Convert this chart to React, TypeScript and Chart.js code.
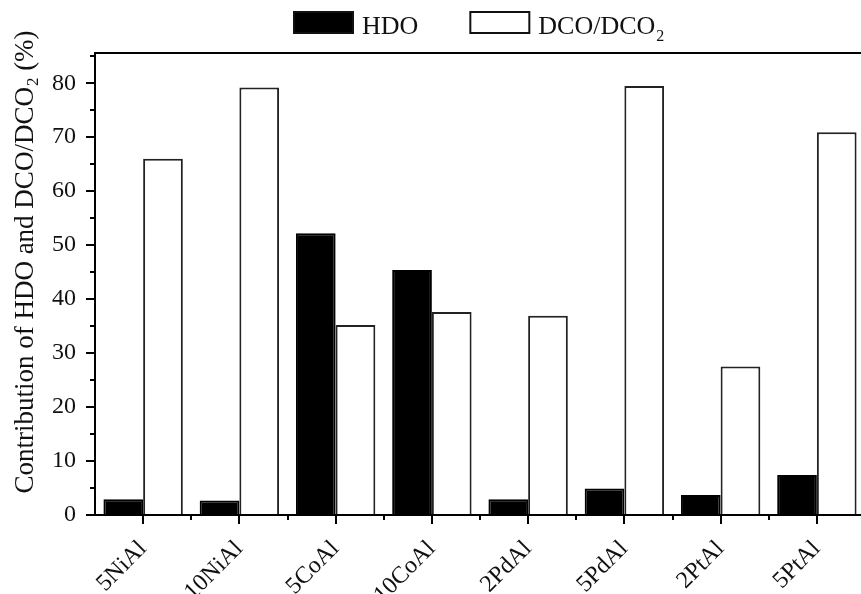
import { useEffect, useRef } from 'react';
import { Chart, registerables } from 'chart.js';

Chart.register(...registerables);

const categories = ['5NiAl', '10NiAl', '5CoAl', '10CoAl', '2PdAl', '5PdAl', '2PtAl', '5PtAl'];
const hdoValues = [2.9, 2.7, 52.2, 45.4, 2.9, 4.9, 3.7, 7.4];
const dcoValues = [66.0, 79.2, 35.2, 37.6, 36.9, 79.5, 27.5, 70.9];
const seriesLabels = ['HDO', 'DCO/DCO₂'];
const yMajorTicks = [0, 10, 20, 30, 40, 50, 60, 70, 80];
const yMinorTicks = [5, 15, 25, 35, 45, 55, 65, 75, 85];
const yAxisTitle = 'Contribution of HDO and DCO/DCO₂ (%)';

const FONT = "'Liberation Serif', 'Times New Roman', serif";

// Draw text where '₂' is rendered as a lowered, smaller '2'
function drawSubText(ctx: CanvasRenderingContext2D, text: string, x: number, y: number, size: number, measureOnly = false): number {
  const parts = text.split('₂');
  let cx = x;
  const subSize = Math.round(size * 0.62);
  parts.forEach((p, i) => {
    ctx.font = `${size}px ${FONT}`;
    if (!measureOnly) ctx.fillText(p, cx, y);
    cx += ctx.measureText(p).width;
    if (i < parts.length - 1) {
      ctx.font = `${subSize}px ${FONT}`;
      if (!measureOnly) ctx.fillText('2', cx + 1, y + size * 0.28);
      cx += ctx.measureText('2').width + 1;
    }
  });
  return cx - x;
}

const decorPlugin = {
  id: 'decor',
  afterDraw(chart: any) {
    const ctx: CanvasRenderingContext2D = chart.ctx;
    const { chartArea } = chart;
    const xs = chart.scales.x;
    const ys = chart.scales.y;
    ctx.save();
    ctx.strokeStyle = '#000';
    ctx.lineWidth = 2;
    // frame top and right
    ctx.beginPath();
    ctx.moveTo(chartArea.left - 1, chartArea.top);
    ctx.lineTo(chartArea.right, chartArea.top);
    ctx.lineTo(chartArea.right, chartArea.bottom);
    ctx.stroke();
    // minor y ticks
    ctx.beginPath();
    yMinorTicks.forEach((v) => {
      const py = Math.round(ys.getPixelForValue(v));
      ctx.moveTo(chartArea.left - 5, py);
      ctx.lineTo(chartArea.left, py);
    });
    // minor x ticks between categories
    for (let i = 0; i < categories.length - 1; i++) {
      const px = Math.round(xs.getPixelForValue(i + 0.5));
      ctx.moveTo(px, chartArea.bottom);
      ctx.lineTo(px, chartArea.bottom + 5);
    }
    ctx.stroke();

    // legend
    ctx.fillStyle = '#111';
    ctx.textBaseline = 'alphabetic';
    ctx.textAlign = 'left';
    let lx = 293;
    const boxW = 61;
    const boxH = 23;
    const boxY = 11;
    chart.data.datasets.forEach((ds: any) => {
      ctx.fillStyle = ds.backgroundColor;
      ctx.fillRect(lx, boxY, boxW, boxH);
      ctx.strokeStyle = '#111';
      ctx.lineWidth = 2;
      ctx.strokeRect(lx + 1, boxY + 1, boxW - 2, boxH - 2);
      ctx.fillStyle = '#111';
      const w = drawSubText(ctx, ds.label, lx + boxW + 8, 34, 26);
      lx = lx + boxW + 8 + w + 51;
    });

    // y-axis title
    ctx.save();
    ctx.translate(26, 262);
    ctx.rotate(-Math.PI / 2);
    ctx.textBaseline = 'middle';
    const tw = drawSubText(ctx, yAxisTitle, 0, 0, 27, true);
    drawSubText(ctx, yAxisTitle, -tw / 2, 0, 27);
    ctx.restore();

    ctx.restore();
  },
};

export default function App() {
  const ref = useRef<HTMLCanvasElement | null>(null);
  useEffect(() => {
    if (!ref.current) return;
    const chart = new Chart(ref.current, {
      type: 'bar',
      data: {
        labels: categories,
        datasets: [
          {
            label: seriesLabels[0],
            data: hdoValues,
            backgroundColor: '#000',
            borderColor: '#000',
            borderWidth: 2,
            categoryPercentage: 0.825,
            barPercentage: 1,
          },
          {
            label: seriesLabels[1],
            data: dcoValues,
            backgroundColor: '#fff',
            borderColor: '#222',
            borderWidth: 2,
            categoryPercentage: 0.825,
            barPercentage: 1,
          },
        ],
      },
      options: {
        responsive: false,
        animation: false,
        devicePixelRatio: 1,
        layout: { padding: { top: 53, right: 25, left: 0, bottom: 0 } },
        plugins: { legend: { display: false }, tooltip: { enabled: false } },
        scales: {
          x: {
            offset: true,
            grid: { display: true, offset: false, drawOnChartArea: false, drawTicks: true, tickLength: 9, color: '#000', lineWidth: 2 },
            border: { display: true, color: '#000', width: 2 },
            ticks: { autoSkip: false, minRotation: 45, maxRotation: 45, padding: 11, color: '#111', font: { family: FONT, size: 24 } },
            afterFit: (s: any) => { s.height = 79; },
          },
          y: {
            min: 0,
            max: 85.6,
            grid: { drawOnChartArea: false, drawTicks: true, tickLength: 9, color: '#000', lineWidth: 2 },
            border: { display: true, color: '#000', width: 2 },
            ticks: { padding: 10, color: '#111', font: { family: FONT, size: 24 } },
            afterBuildTicks: (s: any) => { s.ticks = yMajorTicks.map((v) => ({ value: v })); },
            afterFit: (s: any) => { s.width = 95; },
          },
        },
      },
      plugins: [decorPlugin],
    });
    return () => chart.destroy();
  }, []);
  return (
    <div style={{ position: 'fixed', left: 0, top: 0, width: 861, height: 594, overflow: 'hidden', background: '#fff' }}>
      <canvas ref={ref} width={890} height={594} style={{ display: 'block' }} />
    </div>
  );
}
